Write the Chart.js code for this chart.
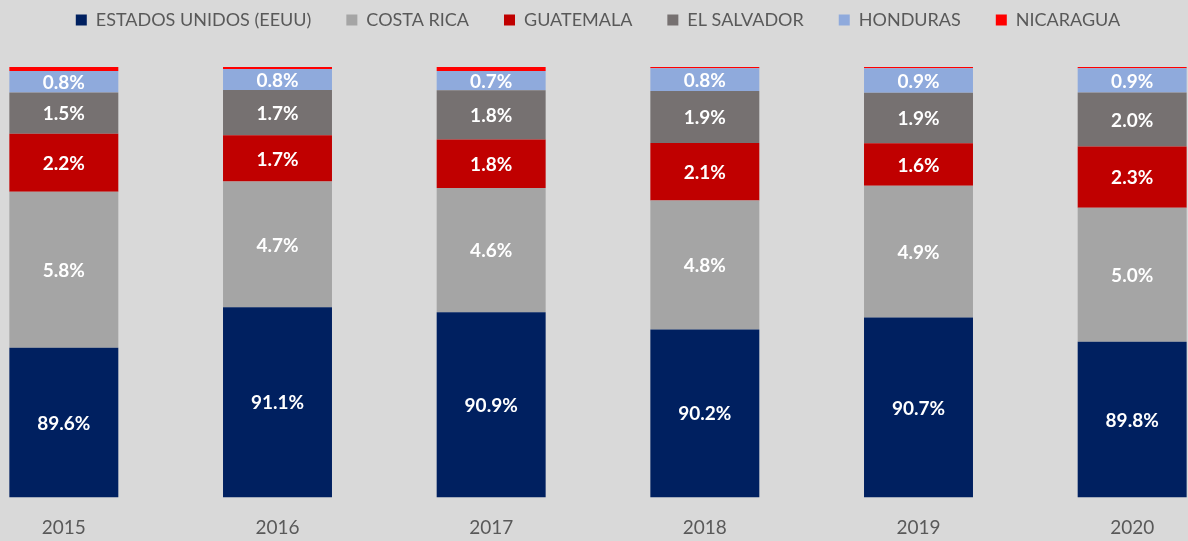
<!DOCTYPE html>
<html>
<head>
<meta charset="utf-8">
<script src="https://cdn.jsdelivr.net/npm/chart.js@4.4.1/dist/chart.umd.min.js"></script>
<style>
  html, body { margin: 0; padding: 0; background: #d9d9d9; overflow: hidden; width: 1188px; height: 541px; }
  #wrap { position: absolute; left: -43px; top: 0; width: 1282px; height: 541px; }
</style>
</head>
<body>
<div id="wrap"><canvas id="c"></canvas></div>
<script>
const years = ['2015', '2016', '2017', '2018', '2019', '2020'];
const eeuu       = [89.56, 91.06, 90.88, 90.24, 90.68, 89.78];
const costaRica  = [5.80, 4.68, 4.62, 4.79, 4.90, 4.98];
const guatemala  = [2.16, 1.72, 1.80, 2.14, 1.58, 2.28];
const elSalvador = [1.53, 1.68, 1.83, 1.94, 1.88, 2.01];
const honduras   = [0.80, 0.78, 0.72, 0.84, 0.91, 0.90];
const nicaragua  = [0.15, 0.08, 0.15, 0.05, 0.05, 0.05];

const FONT = 'Lato, "Open Sans", sans-serif';

const labelPlugin = {
  id: 'segLabels',
  afterDatasetsDraw(chart) {
    const ctx = chart.ctx;
    const area = chart.chartArea;
    ctx.save();
    ctx.font = 'bold 19px ' + FONT;
    ctx.fillStyle = '#ffffff';
    ctx.textAlign = 'center';
    ctx.textBaseline = 'middle';
    chart.data.datasets.forEach((ds, di) => {
      if (!ds.showLabel) return;
      const meta = chart.getDatasetMeta(di);
      meta.data.forEach((bar, i) => {
        const top = Math.max(bar.y, area.top);
        const bottom = Math.min(bar.base, area.bottom);
        const y = (top + bottom) / 2;
        ctx.fillText(ds.data[i].toFixed(1) + '%', bar.x, y + 1);
      });
    });
    ctx.restore();
  }
};

const mk = (label, data, color, showLabel) => ({
  label, data, backgroundColor: color, borderWidth: 0, showLabel,
  categoryPercentage: 1.0, barPercentage: 0.51
});

new Chart(document.getElementById('c'), {
  type: 'bar',
  data: {
    labels: years,
    datasets: [
      mk('ESTADOS UNIDOS (EEUU)', eeuu, '#002060', true),
      mk('COSTA RICA', costaRica, '#a5a5a5', true),
      mk('GUATEMALA', guatemala, '#c00000', true),
      mk('EL SALVADOR', elSalvador, '#767171', true),
      mk('HONDURAS', honduras, '#8faadc', true),
      mk('NICARAGUA', nicaragua, '#ff0000', false)
    ]
  },
  options: {
    responsive: true,
    maintainAspectRatio: false,
    animation: false,
    layout: { padding: { top: -24, bottom: -17, left: 0, right: 0 } },
    plugins: {
      tooltip: { enabled: false },
      legend: {
        position: 'top',
        labels: {
          boxWidth: 11, boxHeight: 11, padding: 35,
          color: '#595959',
          font: { family: FONT, size: 18 }
        }
      }
    },
    scales: {
      x: {
        stacked: true,
        grid: { display: false, drawTicks: false },
        border: { display: false },
        ticks: { color: '#595959', font: { family: FONT, size: 19 }, padding: 19 }
      },
      y: {
        stacked: true,
        display: false,
        min: 84,
        max: 101.04
      }
    }
  },
  plugins: [labelPlugin]
});
</script>
</body>
</html>
